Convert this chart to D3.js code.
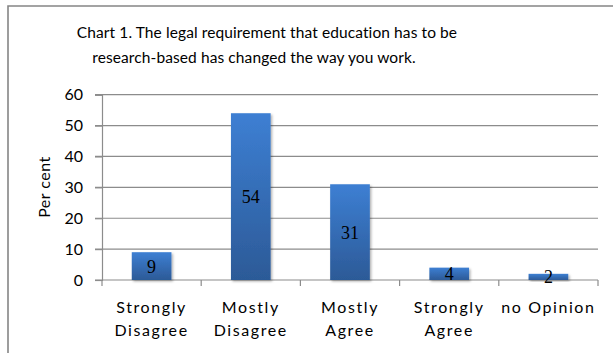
<!DOCTYPE html>
<html>
<head>
<meta charset="utf-8">
<script src="https://cdn.jsdelivr.net/npm/d3@7"></script>
<style>
  body { margin: 0; background: #fff; }
  svg { display: block; }
  text { font-family: Lato, "Open Sans", sans-serif; fill: #000; }
</style>
</head>
<body>
<svg id="chart"></svg>
<script>
const categories = [["Strongly", "Disagree"], ["Mostly", "Disagree"], ["Mostly", "Agree"], ["Strongly", "Agree"], ["no Opinion"]];
const values = [9, 54, 31, 4, 2];
const yTicks = [0, 10, 20, 30, 40, 50, 60];
const titleLines = ["Chart 1. The legal requirement that education has to be", "research-based has changed the way you work."];

const width = 613, height = 353;
const plot = { left: 102, right: 598, top: 94.7, bottom: 280 };

const svg = d3.select('#chart').attr('width', width).attr('height', height);

// gradient for bars
const defs = svg.append('defs');
const grad = defs.append('linearGradient')
  .attr('id', 'barGrad').attr('x1', 0).attr('y1', 0).attr('x2', 0).attr('y2', 1);
grad.append('stop').attr('offset', '0%').attr('stop-color', '#3d7fd3');
grad.append('stop').attr('offset', '100%').attr('stop-color', '#2c5a97');
const shadow = defs.append('filter').attr('id', 'shadow')
  .attr('x', '-20%').attr('y', '-20%').attr('width', '150%').attr('height', '150%');
shadow.append('feDropShadow').attr('dx', 1.5).attr('dy', 1.5).attr('stdDeviation', 1.2)
  .attr('flood-color', '#000').attr('flood-opacity', 0.3);

// chart border (only top and left visible in the crop)
svg.append('path')
  .attr('d', `M8,${height} V6 H${width}`)
  .attr('fill', 'none').attr('stroke', '#858585').attr('stroke-width', 1.6);

// title
svg.selectAll('text.title')
  .data(titleLines)
  .enter().append('text')
  .attr('class', 'title')
  .attr('x', (d, i) => i === 0 ? 267 : 254)
  .attr('y', (d, i) => 38 + i * 25)
  .attr('text-anchor', 'middle')
  .style('font-size', '15.5px')
  .style('letter-spacing', '0.1px')
  .text(d => d);

const x = d3.scaleBand()
  .domain(d3.range(categories.length))
  .range([plot.left, plot.right])
  .paddingInner(0.6)
  .paddingOuter(0.3);

const y = d3.scaleLinear()
  .domain([0, 60])
  .range([plot.bottom, plot.top]);

// gridlines
svg.append('g')
  .selectAll('line')
  .data(yTicks.slice(1))
  .enter().append('line')
  .attr('x1', plot.left - 7).attr('x2', plot.right)
  .attr('y1', d => y(d)).attr('y2', d => y(d))
  .attr('stroke', '#8c8c8c').attr('stroke-width', 1.2);

// y axis
const yAxis = svg.append('g')
  .attr('transform', `translate(${plot.left},0)`)
  .call(d3.axisLeft(y).tickValues(yTicks).tickSize(7).tickPadding(12));
yAxis.select('.domain').attr('stroke', '#8c8c8c').attr('stroke-width', 1.2);
yAxis.selectAll('.tick line').attr('stroke', '#8c8c8c').attr('stroke-width', 1.2);
yAxis.selectAll('.tick text')
  .style('font-size', '16px').style('font-family', 'Lato, sans-serif').attr('fill', '#000');

// x axis line and boundary ticks
const xg = svg.append('g');
xg.append('line')
  .attr('x1', plot.left - 7).attr('x2', plot.right)
  .attr('y1', plot.bottom).attr('y2', plot.bottom)
  .attr('stroke', '#8c8c8c').attr('stroke-width', 1.2);
const bounds = d3.range(categories.length + 1).map(i => plot.left + i * x.step());
xg.selectAll('line.tick')
  .data(bounds)
  .enter().append('line')
  .attr('class', 'tick')
  .attr('x1', d => d).attr('x2', d => d)
  .attr('y1', plot.bottom).attr('y2', plot.bottom + 6)
  .attr('stroke', '#8c8c8c').attr('stroke-width', 1.2);

// category labels
const catLabels = svg.append('g').selectAll('text')
  .data(categories)
  .enter().append('text')
  .attr('text-anchor', 'middle')
  .attr('x', (d, i) => x(i) + x.bandwidth() / 2)
  .attr('y', 313)
  .style('font-size', '16px')
  .style('letter-spacing', '1.6px');
catLabels.selectAll('tspan')
  .data(d => d)
  .enter().append('tspan')
  .attr('x', function () { return d3.select(this.parentNode).attr('x'); })
  .attr('dy', (d, i) => i === 0 ? 0 : 23)
  .text(d => d);

// y axis title
svg.append('text')
  .attr('transform', 'translate(50,187) rotate(-90)')
  .attr('text-anchor', 'middle')
  .style('font-size', '16px')
  .style('letter-spacing', '0.5px')
  .text('Per cent');

// bars
svg.append('g')
  .selectAll('rect')
  .data(values)
  .enter().append('rect')
  .attr('x', (d, i) => x(i))
  .attr('width', x.bandwidth())
  .attr('y', d => y(d))
  .attr('height', d => y(0) - y(d))
  .attr('fill', 'url(#barGrad)')
  .attr('filter', 'url(#shadow)');

// value labels, centred in the bar
svg.append('g')
  .selectAll('text')
  .data(values)
  .enter().append('text')
  .attr('x', (d, i) => x(i) + x.bandwidth() / 2)
  .attr('y', d => (y(d) + y(0)) / 2)
  .attr('dy', '0.36em')
  .attr('text-anchor', 'middle')
  .style('font-family', '"Liberation Serif", serif')
  .style('font-size', '18px')
  .text(d => d);
</script>
</body>
</html>
